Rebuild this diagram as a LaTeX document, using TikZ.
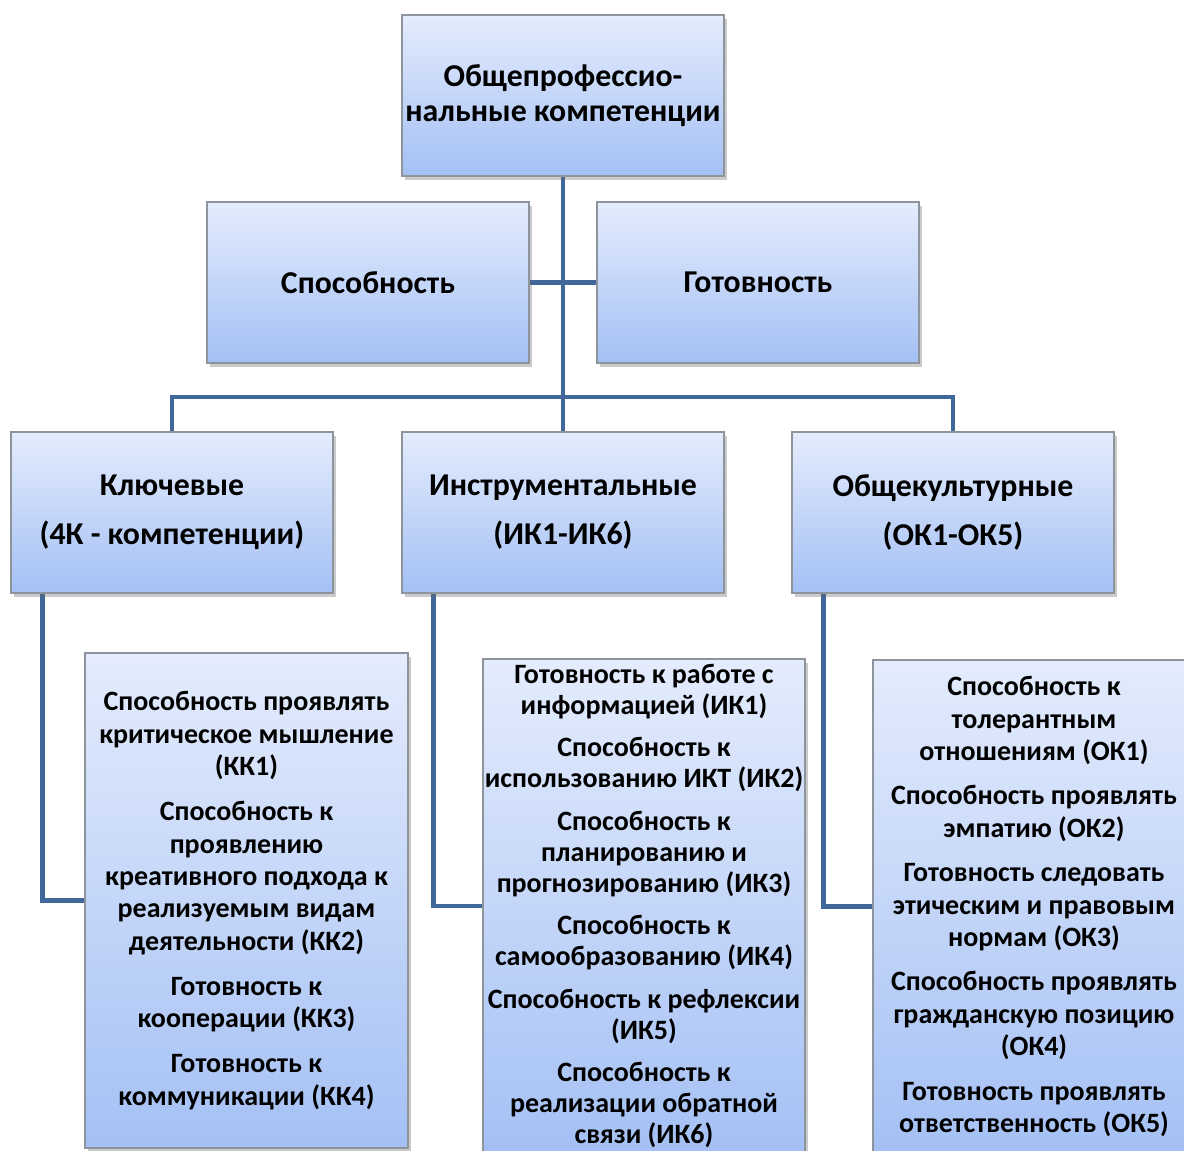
\documentclass[tikz,border=0pt]{standalone}
\usepackage{fontspec}
\setmainfont{Carlito}
\usetikzlibrary{shadows,backgrounds}
\definecolor{boxtop}{HTML}{E4ECFD}
\definecolor{boxbot}{HTML}{A4C0F4}
\definecolor{boxline}{HTML}{8E949C}
\definecolor{linkblue}{HTML}{41689A}
\tikzset{
  compbox/.style={draw=boxline, line width=0.6pt, top color=boxtop, bottom color=boxbot,
    drop shadow={shadow xshift=1.5pt, shadow yshift=-2pt, opacity=0.35, fill=black!60},
    align=center, inner sep=0pt, minimum width=161pt, minimum height=80.5pt,
    font=\bfseries\fontsize{15.9}{17.5}\selectfont},
  listbox/.style={compbox, font=\bfseries\fontsize{14}{16.2}\selectfont},
  tightbox/.style={compbox, font=\bfseries\fontsize{14}{15.5}\selectfont},
  link/.style={draw=linkblue, line width=2.4pt}
}
\begin{document}
\begin{tikzpicture}[x=0.5pt,y=-0.5pt]
\useasboundingbox (0,0) rectangle (1184,1151);
\clip (0,0) rectangle (1184,1151);
% top level
\node[compbox] (top) at (563,95.5) {Общепрофессио-\\нальные компетенции};
\node[compbox] (sposob) at (368,282.5) {Способность};
\node[compbox] (gotov) at (758,282.5) {Готовность};
% groups
\node[compbox] (kluch) at (172,512.5) {Ключевые\\[7pt](4К - компетенции)};
\node[compbox] (instr) at (563,512.5) {Инструментальные\\[7pt](ИК1-ИК6)};
\node[compbox] (obshch) at (953,512.5) {Общекультурные\\[7pt](ОК1-ОК5)};
% lists
\node[listbox, minimum width=161.5pt, minimum height=247.5pt] (kk) at (246.5,900.5) {%
Способность проявлять\\критическое мышление\\(КК1)\\[6.3pt]
Способность к\\проявлению\\креативного подхода к\\реализуемым видам\\деятельности (КК2)\\[6.3pt]
Готовность к\\кооперации (КК3)\\[6.3pt]
Готовность к\\коммуникации (КК4)};
\node[tightbox, minimum height=247pt] (ik) at (644,906) {%
Готовность к работе с\\информацией (ИК1)\\[5.7pt]
Способность к\\использованию ИКТ (ИК2)\\[5.7pt]
Способность к\\планированию и\\прогнозированию (ИК3)\\[5.7pt]
Способность к\\самообразованию (ИК4)\\[5.7pt]
Способность к рефлексии\\(ИК5)\\[5.7pt]
Способность к\\реализации обратной\\связи (ИК6)};
\node[listbox, minimum height=246.5pt] (ok) at (1034,906.5) {%
Способность к\\толерантным\\отношениям (ОК1)\\[6pt]
Способность проявлять\\эмпатию (ОК2)\\[6pt]
Готовность следовать\\этическим и правовым\\нормам (ОК3)\\[6pt]
Способность проявлять\\гражданскую позицию\\(ОК4)\\[6pt]
Готовность проявлять\\ответственность (ОК5)};
% connectors
\coordinate (hub) at (563,397);
\begin{scope}[on background layer]
\draw[link] (top.south) -- (hub);
\draw[link] (sposob.east) -- (gotov.west);
\draw[link] (kluch.north) |- (hub) -| (obshch.north);
\draw[link] (hub) -- (instr.north);
\draw[link] ([xshift=16pt]kluch.south west) |- (kk);
\draw[link] ([xshift=16pt]instr.south west) |- (ik);
\draw[link] ([xshift=16pt]obshch.south west) |- (ok);
\end{scope}
\end{tikzpicture}
\end{document}
